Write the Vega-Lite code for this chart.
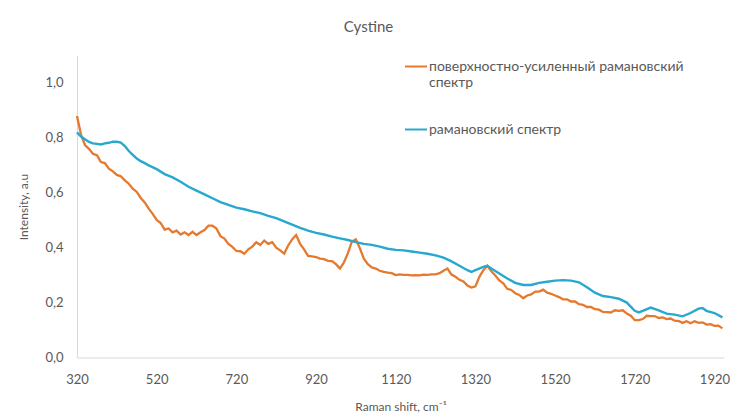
{
  "$schema": "https://vega.github.io/schema/vega-lite/v6.json",
  "width": 647,
  "height": 302,
  "autosize": {"type": "none"},
  "padding": {"left": 77, "top": 55.5, "right": 8, "bottom": 58.5},
  "background": "white",
  "title": {"text": "Cystine", "font": "Lato", "fontSize": 15, "fontWeight": "normal", "color": "#595959", "anchor": "middle", "dx": -32, "offset": 20},
  "config": {
    "view": {"stroke": null},
    "axis": {"grid": false, "ticks": false, "domainColor": "#d9d9d9", "domainWidth": 1, "labelColor": "#595959", "labelFont": "Lato", "labelFontSize": 13, "titleColor": "#595959", "titleFont": "Lato", "titleFontSize": 12, "titleFontWeight": "normal"}
  },
  "datasets": {
    "sers": [
      {"x":320,"y":0.880},{"x":330,"y":0.812},{"x":340,"y":0.774},{"x":350,"y":0.760},{"x":360,"y":0.742},{"x":370,"y":0.737},{"x":380,"y":0.712},{"x":390,"y":0.708},{"x":400,"y":0.688},{"x":410,"y":0.678},{"x":420,"y":0.665},{"x":430,"y":0.660},{"x":440,"y":0.645},{"x":450,"y":0.633},{"x":460,"y":0.615},{"x":470,"y":0.603},{"x":480,"y":0.581},{"x":490,"y":0.565},{"x":500,"y":0.542},{"x":510,"y":0.523},{"x":520,"y":0.501},{"x":530,"y":0.490},{"x":540,"y":0.466},{"x":550,"y":0.470},{"x":560,"y":0.456},{"x":570,"y":0.462},{"x":580,"y":0.448},{"x":590,"y":0.456},{"x":600,"y":0.446},{"x":610,"y":0.458},{"x":620,"y":0.446},{"x":630,"y":0.456},{"x":640,"y":0.464},{"x":650,"y":0.480},{"x":660,"y":0.480},{"x":670,"y":0.470},{"x":680,"y":0.442},{"x":690,"y":0.433},{"x":700,"y":0.414},{"x":710,"y":0.403},{"x":720,"y":0.388},{"x":730,"y":0.387},{"x":740,"y":0.378},{"x":750,"y":0.394},{"x":760,"y":0.404},{"x":770,"y":0.420},{"x":780,"y":0.410},{"x":790,"y":0.426},{"x":800,"y":0.414},{"x":810,"y":0.420},{"x":820,"y":0.400},{"x":830,"y":0.390},{"x":840,"y":0.378},{"x":850,"y":0.408},{"x":860,"y":0.430},{"x":870,"y":0.446},{"x":880,"y":0.414},{"x":890,"y":0.394},{"x":900,"y":0.370},{"x":910,"y":0.368},{"x":920,"y":0.366},{"x":930,"y":0.360},{"x":940,"y":0.358},{"x":950,"y":0.352},{"x":960,"y":0.351},{"x":970,"y":0.340},{"x":980,"y":0.324},{"x":990,"y":0.346},{"x":1000,"y":0.380},{"x":1010,"y":0.422},{"x":1020,"y":0.430},{"x":1030,"y":0.398},{"x":1040,"y":0.360},{"x":1050,"y":0.340},{"x":1060,"y":0.328},{"x":1070,"y":0.324},{"x":1080,"y":0.316},{"x":1090,"y":0.312},{"x":1100,"y":0.309},{"x":1110,"y":0.307},{"x":1120,"y":0.300},{"x":1130,"y":0.303},{"x":1140,"y":0.301},{"x":1150,"y":0.301},{"x":1160,"y":0.299},{"x":1170,"y":0.300},{"x":1180,"y":0.299},{"x":1190,"y":0.302},{"x":1200,"y":0.301},{"x":1210,"y":0.303},{"x":1220,"y":0.303},{"x":1230,"y":0.307},{"x":1240,"y":0.316},{"x":1250,"y":0.324},{"x":1260,"y":0.302},{"x":1270,"y":0.294},{"x":1280,"y":0.283},{"x":1290,"y":0.277},{"x":1300,"y":0.262},{"x":1310,"y":0.255},{"x":1320,"y":0.259},{"x":1330,"y":0.294},{"x":1340,"y":0.318},{"x":1350,"y":0.334},{"x":1360,"y":0.314},{"x":1370,"y":0.299},{"x":1380,"y":0.281},{"x":1390,"y":0.270},{"x":1400,"y":0.250},{"x":1410,"y":0.246},{"x":1420,"y":0.234},{"x":1430,"y":0.228},{"x":1440,"y":0.216},{"x":1450,"y":0.226},{"x":1460,"y":0.230},{"x":1470,"y":0.240},{"x":1480,"y":0.240},{"x":1490,"y":0.247},{"x":1500,"y":0.236},{"x":1510,"y":0.232},{"x":1520,"y":0.226},{"x":1530,"y":0.220},{"x":1540,"y":0.212},{"x":1550,"y":0.212},{"x":1560,"y":0.204},{"x":1570,"y":0.204},{"x":1580,"y":0.194},{"x":1590,"y":0.192},{"x":1600,"y":0.184},{"x":1610,"y":0.184},{"x":1620,"y":0.176},{"x":1630,"y":0.174},{"x":1640,"y":0.166},{"x":1650,"y":0.165},{"x":1660,"y":0.164},{"x":1670,"y":0.172},{"x":1680,"y":0.170},{"x":1690,"y":0.172},{"x":1700,"y":0.160},{"x":1710,"y":0.152},{"x":1720,"y":0.136},{"x":1730,"y":0.136},{"x":1740,"y":0.140},{"x":1750,"y":0.152},{"x":1760,"y":0.151},{"x":1770,"y":0.151},{"x":1780,"y":0.144},{"x":1790,"y":0.146},{"x":1800,"y":0.140},{"x":1810,"y":0.142},{"x":1820,"y":0.134},{"x":1830,"y":0.133},{"x":1840,"y":0.126},{"x":1850,"y":0.132},{"x":1860,"y":0.125},{"x":1870,"y":0.132},{"x":1880,"y":0.126},{"x":1890,"y":0.128},{"x":1900,"y":0.120},{"x":1910,"y":0.121},{"x":1920,"y":0.115},{"x":1930,"y":0.116},{"x":1940,"y":0.106}
    ],
    "raman": [
      {"x":320,"y":0.820},{"x":330,"y":0.805},{"x":340,"y":0.795},{"x":350,"y":0.785},{"x":360,"y":0.780},{"x":370,"y":0.778},{"x":380,"y":0.776},{"x":390,"y":0.780},{"x":400,"y":0.782},{"x":410,"y":0.786},{"x":420,"y":0.786},{"x":430,"y":0.783},{"x":440,"y":0.770},{"x":450,"y":0.752},{"x":460,"y":0.738},{"x":470,"y":0.725},{"x":480,"y":0.715},{"x":490,"y":0.708},{"x":500,"y":0.700},{"x":520,"y":0.686},{"x":540,"y":0.668},{"x":560,"y":0.656},{"x":580,"y":0.640},{"x":600,"y":0.622},{"x":620,"y":0.608},{"x":640,"y":0.594},{"x":660,"y":0.580},{"x":680,"y":0.566},{"x":700,"y":0.556},{"x":720,"y":0.546},{"x":740,"y":0.540},{"x":760,"y":0.532},{"x":780,"y":0.526},{"x":800,"y":0.516},{"x":820,"y":0.508},{"x":840,"y":0.496},{"x":860,"y":0.484},{"x":880,"y":0.472},{"x":900,"y":0.462},{"x":920,"y":0.454},{"x":940,"y":0.448},{"x":960,"y":0.440},{"x":980,"y":0.434},{"x":1000,"y":0.428},{"x":1020,"y":0.420},{"x":1040,"y":0.414},{"x":1060,"y":0.410},{"x":1080,"y":0.404},{"x":1100,"y":0.396},{"x":1120,"y":0.392},{"x":1140,"y":0.390},{"x":1160,"y":0.386},{"x":1180,"y":0.382},{"x":1200,"y":0.378},{"x":1220,"y":0.372},{"x":1240,"y":0.364},{"x":1260,"y":0.350},{"x":1280,"y":0.334},{"x":1300,"y":0.318},{"x":1310,"y":0.312},{"x":1320,"y":0.318},{"x":1340,"y":0.330},{"x":1350,"y":0.334},{"x":1360,"y":0.324},{"x":1380,"y":0.306},{"x":1400,"y":0.288},{"x":1420,"y":0.272},{"x":1440,"y":0.264},{"x":1460,"y":0.264},{"x":1480,"y":0.272},{"x":1500,"y":0.276},{"x":1520,"y":0.280},{"x":1540,"y":0.282},{"x":1560,"y":0.280},{"x":1580,"y":0.274},{"x":1600,"y":0.256},{"x":1620,"y":0.236},{"x":1640,"y":0.224},{"x":1660,"y":0.220},{"x":1680,"y":0.214},{"x":1700,"y":0.200},{"x":1720,"y":0.170},{"x":1730,"y":0.164},{"x":1740,"y":0.170},{"x":1760,"y":0.182},{"x":1780,"y":0.172},{"x":1800,"y":0.160},{"x":1820,"y":0.156},{"x":1840,"y":0.150},{"x":1860,"y":0.162},{"x":1880,"y":0.178},{"x":1890,"y":0.180},{"x":1900,"y":0.170},{"x":1920,"y":0.162},{"x":1940,"y":0.146}
    ]
  },
  "encoding": {
    "x": {"field": "x", "type": "quantitative", "scale": {"domain": [320, 1944], "nice": false, "zero": false},
      "axis": {"values": [320,520,720,920,1120,1320,1520,1720,1920], "format": "d", "labelPadding": 16, "title": "Raman shift, cm⁻¹", "titlePadding": 15, "labelFlush": false}},
    "y": {"field": "y", "type": "quantitative", "scale": {"domain": [0, 1.1], "nice": false},
      "axis": {"values": [0,0.2,0.4,0.6,0.8,1.0], "labelExpr": "replace(format(datum.value, '.1f'), '.', ',')", "labelPadding": 14, "title": "Intensity, a.u", "titlePadding": 14}},
    "color": {"scale": {"domain": ["поверхностно-усиленный рамановский спектр", "рамановский спектр"], "range": ["#E5792E", "#27A9CF"]},
      "legend": {"title": null, "orient": "none", "legendX": 327, "legendY": -1, "symbolType": "stroke", "symbolSize": 484, "symbolStrokeWidth": 2, "labelFont": "Lato", "labelFontSize": 14, "labelColor": "#595959", "labelLimit": 500, "labelOffset": 1, "rowPadding": 28,
        "labelExpr": "datum.label == 'поверхностно-усиленный рамановский спектр' ? ['поверхностно-усиленный рамановский', 'спектр'] : datum.label"}}
  },
  "layer": [
    {"data": {"name": "sers"}, "mark": {"type": "line", "strokeWidth": 2.3, "interpolate": "linear"}, "encoding": {"color": {"datum": "поверхностно-усиленный рамановский спектр"}}},
    {"data": {"name": "raman"}, "mark": {"type": "line", "strokeWidth": 2.4, "interpolate": "linear"}, "encoding": {"color": {"datum": "рамановский спектр"}}}
  ]
}
